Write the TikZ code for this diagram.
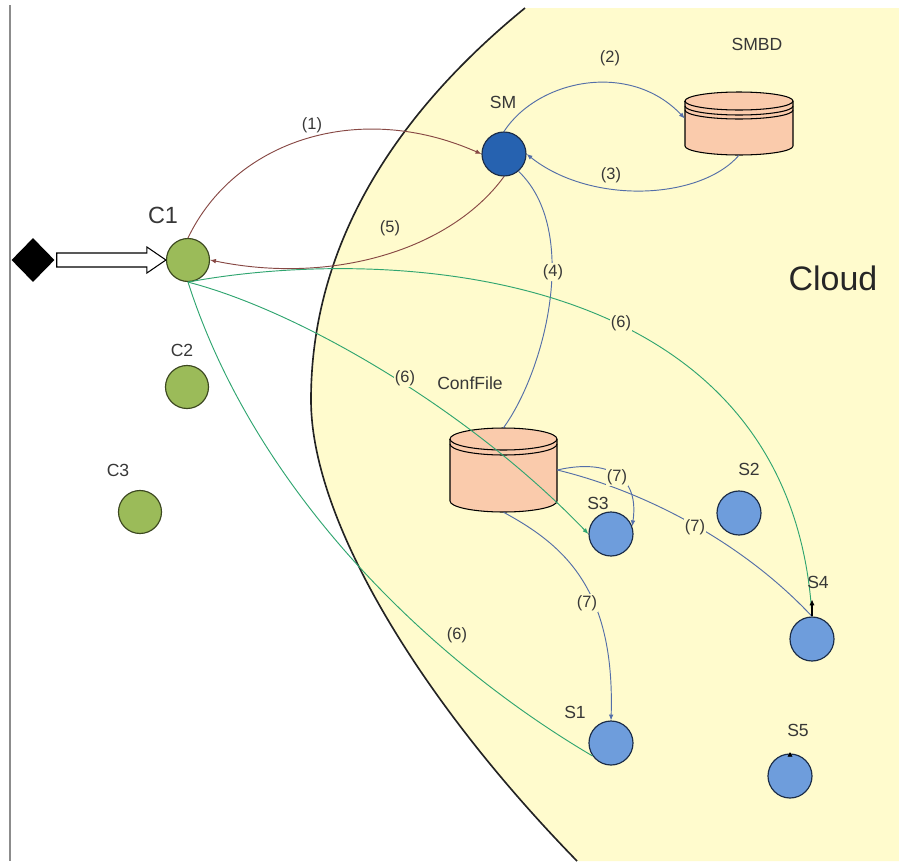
\documentclass[tikz,border=0pt]{standalone}
\usepackage{fontspec}
\newfontfamily\arial{Liberation Sans}
\usetikzlibrary{shapes.geometric,arrows.meta,calc}

\definecolor{cloudfill}{RGB}{255,251,205}
\definecolor{cloudedge}{RGB}{35,35,35}
\definecolor{bordergray}{RGB}{140,140,140}
\definecolor{clientfill}{RGB}{155,187,89}
\definecolor{clientline}{RGB}{60,72,32}
\definecolor{smfill}{RGB}{38,98,176}
\definecolor{srvfill}{RGB}{110,157,220}
\definecolor{srvline}{RGB}{28,45,72}
\definecolor{peach}{RGB}{250,203,172}
\definecolor{maroon}{RGB}{135,72,68}
\definecolor{steel}{RGB}{84,110,168}
\definecolor{flowgreen}{RGB}{48,165,112}
\definecolor{labelgray}{RGB}{55,55,55}

\begin{document}
\begin{tikzpicture}[x=0.03cm, y=-0.03cm,
  client/.style={circle, draw=clientline, fill=clientfill, line width=1pt,
                 minimum size=1.29cm, inner sep=0pt},
  server/.style={circle, draw=srvline, fill=srvfill, line width=1pt,
                 minimum size=1.32cm, inner sep=0pt},
  dbbox/.style={rectangle, inner sep=0pt, draw=none},
  lbl/.style={font=\arial\fontsize{15}{17}\selectfont, text=labelgray, inner sep=1pt},
  numlbl/.style={font=\arial\fontsize{14}{16}\selectfont, text=labelgray, inner sep=1pt},
  onlbl/.style={numlbl, fill=cloudfill},
  conn/.style={line width=0.8pt},
  arrowed/.style={-{Latex[length=5pt,width=4pt]}},
  cyl/.style={fill=peach, draw=black, line width=0.9pt}
]
\useasboundingbox (0,0) rectangle (899,861);

% cloud area and its border
\fill[cloudfill] (525,8) .. controls (400,110) and (311,240) .. (311,400)
  .. controls (311,520) and (420,700) .. (577,861) -- (899,861) -- (899,8) -- cycle;
\draw[cloudedge, line width=1.4pt] (525,8) .. controls (400,110) and (311,240) .. (311,400)
  .. controls (311,520) and (420,700) .. (577,861);

% left frame line
\draw[bordergray, line width=1.5pt] (10,5) -- (10,861);

% nodes
\node[diamond, fill=black, minimum width=1.29cm, minimum height=1.32cm, inner sep=0pt] (dia) at (33,260) {};
\node[client] (C1) at (188,260) {};
\node[client] (C2) at (187,387) {};
\node[client] (C3) at (140,512) {};
\node[server, fill=smfill] (SM) at (504,154) {};
\node[server] (S1) at (611,743) {};
\node[server] (S2) at (739,513) {};
\node[server] (S3) at (611,534) {};
\node[server] (S4) at (812,639) {};
\node[server] (S5) at (790,776) {};
\node[dbbox, minimum width=3.24cm, minimum height=1.89cm] (smbd) at (739,123.5) {};
\node[dbbox, minimum width=3.21cm, minimum height=2.52cm] (conf) at (503.5,470) {};

% SMBD cylinder
\draw[cyl] (685,101) -- (685,146) arc[start angle=180, end angle=360, x radius=1.62cm, y radius=0.27cm]
  -- (793,101) arc[start angle=0, end angle=180, x radius=1.62cm, y radius=0.27cm] -- cycle;
\draw[line width=0.9pt] (685,101) arc[start angle=180, end angle=360, x radius=1.62cm, y radius=0.27cm];
\draw[line width=0.9pt] (685,106) arc[start angle=180, end angle=360, x radius=1.62cm, y radius=0.27cm];
\draw[line width=0.9pt] (685,110) arc[start angle=180, end angle=360, x radius=1.62cm, y radius=0.27cm];

% ConfFile cylinder
\draw[cyl] (450,439) -- (450,501) arc[start angle=180, end angle=360, x radius=1.605cm, y radius=0.33cm]
  -- (557,439) arc[start angle=0, end angle=180, x radius=1.605cm, y radius=0.33cm] -- cycle;
\draw[line width=0.9pt] (450,439) arc[start angle=180, end angle=360, x radius=1.605cm, y radius=0.33cm];
\draw[line width=0.9pt] (450,444) arc[start angle=180, end angle=360, x radius=1.605cm, y radius=0.33cm];

% hollow input arrow into C1
\draw[fill=white, line width=0.9pt] ($(dia.east)+(2,-7)$) -- ($(C1.west)+(-19,-7)$)
  -- ($(C1.west)+(-19,-13)$) -- (C1.west) -- ($(C1.west)+(-19,13)$)
  -- ($(C1.west)+(-19,7)$) -- ($(dia.east)+(2,7)$) -- cycle;

% flows (1) and (5)
\draw[conn, maroon, arrowed] (C1.north) .. controls +(47,-98) and +(-122,-54) .. (SM.west);
\draw[conn, maroon, arrowed] (SM.south) .. controls +(-54,74) and +(121,25) .. (C1.east);

% flows (2), (3), (4)
\draw[conn, steel, arrowed] (SM.north) .. controls +(34,-52) and +(-55,-58) .. ($(smbd.west)+(0,-5)$);
\draw[conn, steel, arrowed] (smbd.south) .. controls +(-39,45) and +(64,51) .. (SM.east);
\draw[conn, steel] (conf.north) .. controls +(42,-58) and +(62,59) .. (SM.-50);

% flows (6)
\draw[conn, flowgreen] (C1.south) .. controls +(192,-36) and +(-21,-357) .. (S4.north);
\draw[conn, flowgreen, arrowed] (C1.south) .. controls +(112,29) and +(-119,-124) .. (S3.west);
\draw[conn, flowgreen] (C1.south) .. controls +(67,209) and +(-163,-96) .. (S1.215);

% flows (7)
\draw[conn, steel, arrowed] (conf.east) .. controls +(43,-10) and +(8,-56) .. (S3.20);
\draw[conn, steel] (conf.east) .. controls +(83,20) and +(-72,-77) .. (S4.north);
\draw[conn, steel, arrowed] (conf.south) .. controls +(61,33) and +(4,-131) .. (S1.north);

% short black pointers on S4 and S5
\draw[line width=1pt, -{Latex[length=5pt,width=4.5pt]}] (S4.north) -- ++(0,-17);
\draw[line width=0.6pt, -{Latex[length=4pt,width=4.5pt]}] (S5.north) -- ++(0,-1.5);

% step labels
\node[numlbl] (n1) at (312,125) {(1)};
\node[numlbl] (n2) at (610,58) {(2)};
\node[numlbl] (n3) at (611,175) {(3)};
\node[onlbl] (n4) at (553,272) {(4)};
\node[numlbl] (n5) at (390,228) {(5)};
\node[onlbl] (n6a) at (405,378) {(6)};
\node[onlbl] (n6b) at (621,323) {(6)};
\node[numlbl] (n6c) at (457,635) {(6)};
\node[onlbl] (n7a) at (617,477) {(7)};
\node[onlbl] (n7b) at (695,527) {(7)};
\node[onlbl] (n7c) at (587,603) {(7)};

% node names
\node[font=\arial\fontsize{20}{22}\selectfont, text=labelgray] (tC1) at (163,215) {C1};
\node[lbl] (tC2) at (182,350) {C2};
\node[lbl] (tC3) at (118,470) {C3};
\node[lbl] (tSM) at (503,102) {SM};
\node[lbl] (tSMBD) at (757,44) {SMBD};
\node[lbl] (tConf) at (470,383) {ConfFile};
\node[lbl] (tS1) at (575,712) {S1};
\node[lbl] (tS2) at (749,469) {S2};
\node[lbl] (tS3) at (598,503) {S3};
\node[lbl] (tS4) at (818,582) {S4};
\node[lbl] (tS5) at (798,730) {S5};
\node[font=\arial\fontsize{29}{32}\selectfont, text=black!85] (tCloud) at (833,278) {Cloud};
\end{tikzpicture}
\end{document}
